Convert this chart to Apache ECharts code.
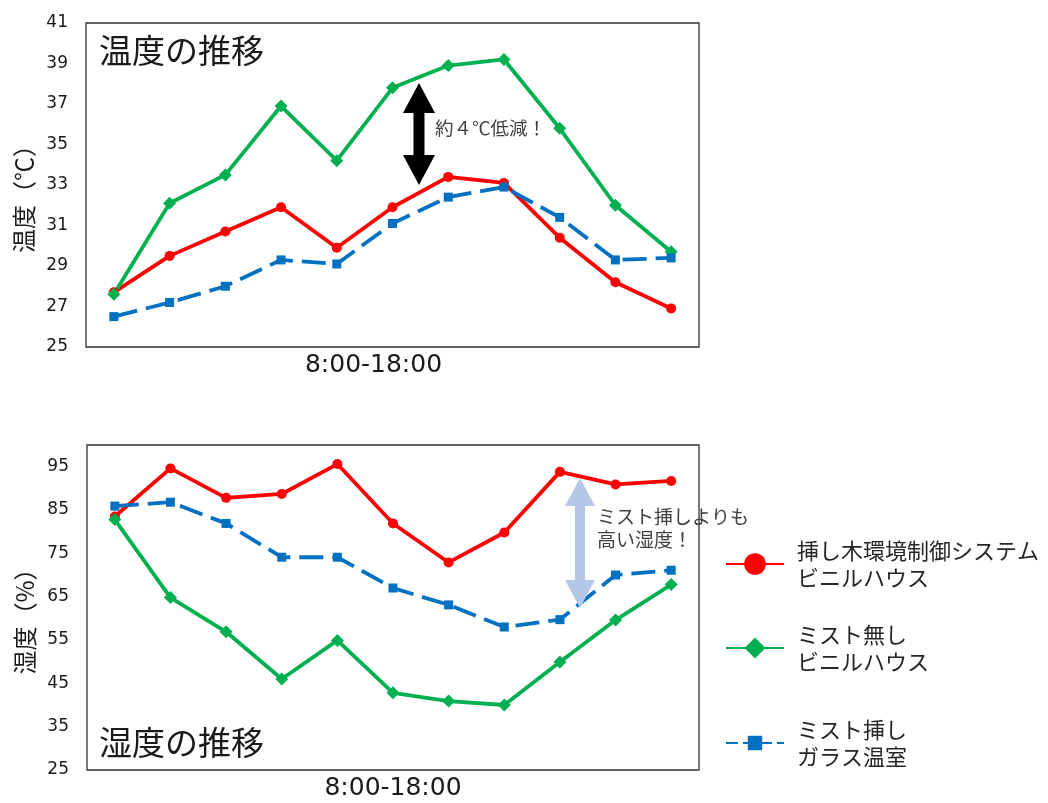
<!DOCTYPE html>
<html>
<head>
<meta charset="utf-8">
<script src="https://cdn.jsdelivr.net/npm/echarts@6/dist/echarts.min.js"></script>
<style>
  html, body { margin: 0; padding: 0; background: #fff; }
  #chart { width: 1048px; height: 803px; }
</style>
</head>
<body>
<div id="chart"></div>
<script>
// Hourly readings, 8:00 to 18:00
const hours = ['8:00', '9:00', '10:00', '11:00', '12:00', '13:00', '14:00', '15:00', '16:00', '17:00', '18:00'];

// Series names (legend shows them on two lines)
const nameControl = '挿し木環境制御システム\nビニルハウス';
const nameNoMist = 'ミスト無し\nビニルハウス';
const nameGlass = 'ミスト挿し\nガラス温室';

// Temperature (°C)
const tempControl = [27.7, 29.5, 30.7, 31.9, 29.9, 31.9, 33.4, 33.1, 30.4, 28.2, 26.9];
const tempNoMist  = [27.6, 32.1, 33.5, 36.9, 34.2, 37.8, 38.9, 39.2, 35.8, 32.0, 29.7];
const tempGlass   = [26.5, 27.2, 28.0, 29.3, 29.1, 31.1, 32.4, 32.9, 31.4, 29.3, 29.4];

// Relative humidity (%)
const humControl = [83.5, 94.6, 87.8, 88.7, 95.6, 81.9, 72.9, 79.8, 93.8, 90.9, 91.7];
const humNoMist  = [82.8, 64.8, 56.9, 46.0, 54.9, 42.8, 40.9, 40.0, 49.9, 59.6, 67.8];
const humGlass   = [85.9, 86.8, 81.9, 74.1, 74.1, 67.0, 63.1, 58.0, 59.7, 70.0, 71.1];

const JP = "'Noto Sans CJK JP', sans-serif";
const NUM = "'DejaVu Sans', sans-serif";

const RED = '#FF0000', GREEN = '#00B050', BLUE = '#0070C0';

function lineSeries(name, data, idx, color, symbol, size, dashed) {
  return {
    name: name,
    type: 'line',
    xAxisIndex: idx,
    yAxisIndex: idx,
    data: data,
    symbol: symbol,
    symbolSize: size,
    showSymbol: true,
    animation: false,
    itemStyle: { color: color },
    lineStyle: { color: color, width: 3.8, type: dashed ? [24, 9] : 'solid', cap: 'butt' },
    emphasis: { disabled: true }
  };
}

// Double-headed arrow outline
function doubleArrow(cx, yTop, yBot, headW, headH, shaftW) {
  return [
    [cx, yTop],
    [cx + headW / 2, yTop + headH],
    [cx + shaftW / 2, yTop + headH],
    [cx + shaftW / 2, yBot - headH],
    [cx + headW / 2, yBot - headH],
    [cx, yBot],
    [cx - headW / 2, yBot - headH],
    [cx - shaftW / 2, yBot - headH],
    [cx - shaftW / 2, yTop + headH],
    [cx - headW / 2, yTop + headH]
  ];
}

function makeLegend(name, top, itemHeight, dash) {
  return {
    data: [name],
    orient: 'vertical',
    left: 725,
    top: top,
    padding: 0,
    itemWidth: 58,
    itemHeight: itemHeight,
    lineStyle: { width: 2, type: dash || 'solid' },
    textStyle: {
      fontFamily: JP,
      fontSize: 22,
      lineHeight: 27,
      color: '#262626',
      padding: [0, 0, 0, 8]
    }
  };
}

const yLabel = { fontFamily: NUM, fontSize: 17, color: '#1a1a1a', margin: 18 };

const option = {
  backgroundColor: '#ffffff',
  animation: false,
  title: [
    { text: '温度の推移', left: 94, top: 29, textStyle: { fontFamily: JP, fontSize: 33, fontWeight: 'normal', color: '#1a1a1a' } },
    { text: '湿度の推移', left: 94, top: 721, textStyle: { fontFamily: JP, fontSize: 33, fontWeight: 'normal', color: '#1a1a1a' } }
  ],
  legend: [
    makeLegend(nameControl, 537, 27),
    makeLegend(nameNoMist, 621, 26),
    makeLegend(nameGlass, 716, 18, [12, 5])
  ],
  grid: [
    { left: 86, right: 349, top: 23, bottom: 456, show: true, borderColor: '#333333', borderWidth: 1.3, backgroundColor: 'transparent' },
    { left: 87, right: 349, top: 445, bottom: 33, show: true, borderColor: '#333333', borderWidth: 1.3, backgroundColor: 'transparent' }
  ],
  xAxis: [
    {
      gridIndex: 0, type: 'category', data: hours, boundaryGap: true,
      axisLine: { show: false }, axisTick: { show: false }, axisLabel: { show: false },
      name: '8:00-18:00', nameLocation: 'middle', nameGap: 6,
      nameTextStyle: { fontFamily: NUM, fontSize: 25, color: '#1a1a1a', padding: [0, 38, 0, 0] }
    },
    {
      gridIndex: 1, type: 'category', data: hours, boundaryGap: true,
      axisLine: { show: false }, axisTick: { show: false }, axisLabel: { show: false },
      name: '8:00-18:00', nameLocation: 'middle', nameGap: 6,
      nameTextStyle: { fontFamily: NUM, fontSize: 25, color: '#1a1a1a' }
    }
  ],
  yAxis: [
    {
      gridIndex: 0, type: 'value', min: 25, max: 41, interval: 2,
      axisLine: { show: false }, axisTick: { show: false }, splitLine: { show: false },
      axisLabel: yLabel,
      name: '温度（℃）', nameLocation: 'middle', nameGap: 50, nameRotate: 90,
      nameTextStyle: { fontFamily: JP, fontSize: 24, color: '#1a1a1a', padding: [0, 16, 0, 0] }
    },
    {
      gridIndex: 1, type: 'value', min: 25, max: 100, interval: 10,
      axisLine: { show: false }, axisTick: { show: false }, splitLine: { show: false },
      axisLabel: Object.assign({ showMaxLabel: false }, yLabel),
      name: '湿度（%）', nameLocation: 'middle', nameGap: 50, nameRotate: 90,
      nameTextStyle: { fontFamily: JP, fontSize: 24, color: '#1a1a1a', padding: [0, 16, 0, 0] }
    }
  ],
  series: [
    lineSeries(nameControl, tempControl, 0, RED, 'circle', 10, false),
    lineSeries(nameNoMist, tempNoMist, 0, GREEN, 'diamond', 13, false),
    lineSeries(nameGlass, tempGlass, 0, BLUE, 'rect', 9, true),
    lineSeries(nameControl, humControl, 1, RED, 'circle', 10, false),
    lineSeries(nameNoMist, humNoMist, 1, GREEN, 'diamond', 13, false),
    lineSeries(nameGlass, humGlass, 1, BLUE, 'rect', 9, true)
  ],
  graphic: [
    {
      type: 'polygon', silent: true, z: 10,
      shape: { points: doubleArrow(419, 83, 185, 32, 30, 11) },
      style: { fill: '#000000' }
    },
    {
      type: 'text', silent: true, z: 10, left: 435, top: 119,
      style: { text: '約４℃低減！', font: "18.5px 'Noto Sans CJK JP', sans-serif", fill: '#404040' }
    },
    {
      type: 'polygon', silent: true, z: 10,
      shape: { points: doubleArrow(580, 478, 608, 30, 28, 10) },
      style: { fill: '#B4C7E7' }
    },
    {
      type: 'text', silent: true, z: 10, left: 597, top: 505,
      style: { text: 'ミスト挿しよりも\n高い湿度！', font: "19px 'Noto Sans CJK JP', sans-serif", lineHeight: 23, fill: '#404040' }
    }
  ]
};

const chart = echarts.init(document.getElementById('chart'), null, { renderer: 'canvas' });
chart.setOption(option);
</script>
</body>
</html>
